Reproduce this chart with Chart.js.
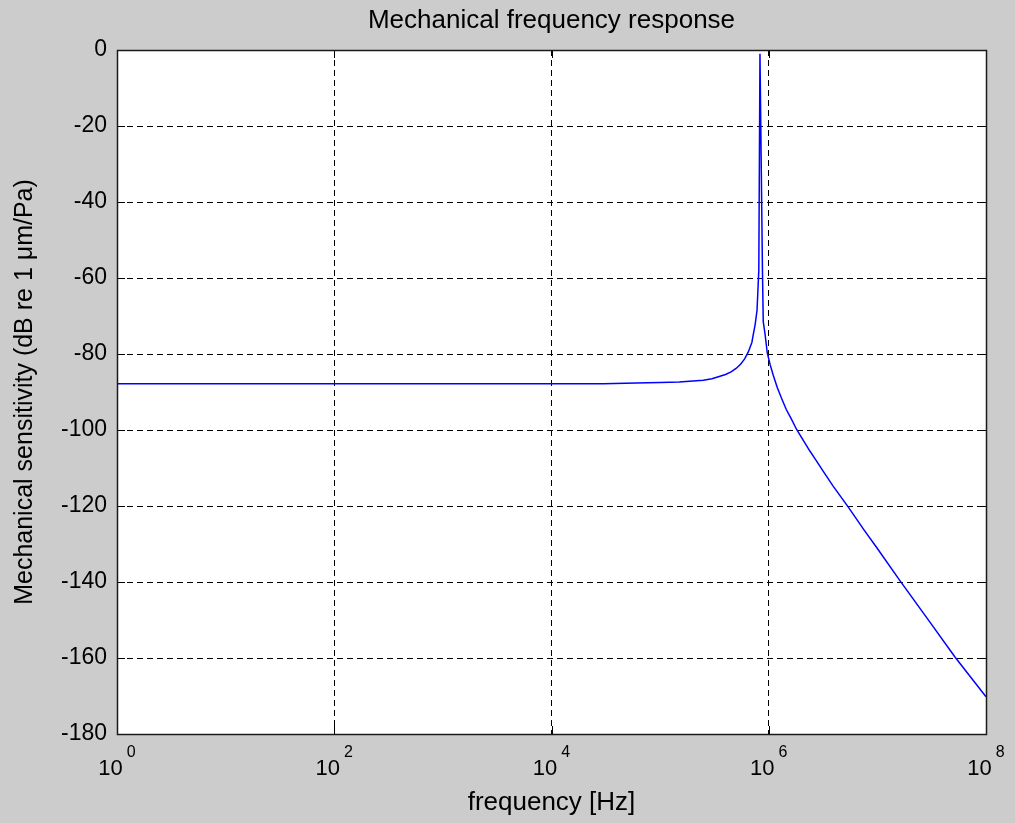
<!DOCTYPE html>
<html>
<head>
<meta charset="utf-8">
<script src="https://cdn.jsdelivr.net/npm/chart.js@4/dist/chart.umd.min.js"></script>
<style>
html, body { margin: 0; padding: 0; background: #cccccc; }
#wrap { width: 1015px; height: 823px; position: relative; }
canvas { display: block; }
</style>
</head>
<body>
<div id="wrap"><canvas id="c" width="1015" height="823"></canvas></div>
<script>
// ---- data ----
const chartTitle = 'Mechanical frequency response';
const xAxisLabel = 'frequency [Hz]';
const yAxisLabel = 'Mechanical sensitivity (dB re 1 \u03BCm/Pa)';

const freqHz = [
  1, 10, 100, 1000, 1e4, 3e4, 6e4, 1e5, 1.5e5, 2e5, 2.5e5, 3e5, 3.5e5, 4e5,
  4.5e5, 5e5, 5.5e5, 6e5, 6.5e5, 7e5, 7.2e5, 7.5e5, 7.8e5, 8.1e5, 8.3e5, 8.75e5,
  8.9e5, 9.25e5, 9.7e5, 1.03e6, 1.1e6, 1.2e6, 1.3e6, 1.45e6, 1.6e6, 1.8e6,
  2.1e6, 2.4e6, 2.7e6, 3.2e6, 3.9e6, 5.4e6, 7.5e6, 1e7, 1.6e7, 3e7, 5.2e7, 1e8
];
const sensitivityDb = [
  -87.8, -87.8, -87.8, -87.8, -87.8, -87.8, -87.6, -87.5, -87.4, -87.1, -86.9, -86.5, -85.9, -85.4,
  -84.7, -83.8, -82.7, -81.3, -79.4, -76.9, -74.9, -72.2, -68.5, -58.0, -1.0, -58.0,
  -71.5, -74.8, -79.8, -82.8, -85.6, -88.9, -91.4, -94.6, -96.9, -99.8,
  -102.9, -105.6, -107.8, -111.0, -114.7, -120.3, -126.2, -131.2, -139.5, -150.3, -159.8, -170.2
];
const xTickExponents = [0, 2, 4, 6, 8];
const xTickValues = xTickExponents.map(e => Math.pow(10, e));
const yMin = -180, yMax = 0, yStep = 20;

// ---- chart ----
const FONT = '"Liberation Sans", Arial, Helvetica, sans-serif';
Chart.defaults.font.family = FONT;
Chart.defaults.color = '#000';

const plotDecor = {
  id: 'plotDecor',
  beforeDraw(chart) {
    const { ctx, chartArea: a } = chart;
    ctx.save();
    ctx.fillStyle = '#ffffff';
    ctx.fillRect(a.left, a.top, a.right - a.left, a.bottom - a.top);
    ctx.restore();
  },
  afterDraw(chart) {
    const { ctx, chartArea: a, scales } = chart;
    const L = Math.round(a.left), R = Math.round(a.right), T = Math.round(a.top), B = Math.round(a.bottom);
    ctx.save();
    ctx.strokeStyle = '#000';
    ctx.lineWidth = 1;
    ctx.setLineDash([]);
    // inner tick marks
    const tl = 8;
    ctx.beginPath();
    scales.y.ticks.forEach(t => {
      const py = Math.round(scales.y.getPixelForValue(t.value)) + 0.5;
      ctx.moveTo(L, py); ctx.lineTo(L + tl, py);
      ctx.moveTo(R, py); ctx.lineTo(R - tl, py);
    });
    scales.x.ticks.forEach(t => {
      const px = Math.round(scales.x.getPixelForValue(t.value)) + 0.5;
      ctx.moveTo(px, B); ctx.lineTo(px, B - tl);
      ctx.moveTo(px, T); ctx.lineTo(px, T + tl);
    });
    ctx.stroke();
    // axes box
    ctx.lineWidth = 1.5;
    ctx.strokeStyle = '#1a1a1a';
    ctx.strokeRect(L + 0.5, T + 0.5, R - L, B - T);
    // x tick labels as 10^n
    const baseFont = '22px ' + FONT, expFont = '16px ' + FONT;
    ctx.fillStyle = '#000';
    ctx.textAlign = 'left';
    ctx.textBaseline = 'alphabetic';
    const xs = scales.x;
    xs.ticks.forEach((t, i) => {
      const px = xs.getPixelForValue(t.value);
      const base = '10', exp = String(xTickExponents[i]);
      ctx.font = baseFont; const wb = ctx.measureText(base).width;
      ctx.font = expFont; const we = ctx.measureText(exp).width;
      const gap = 4;
      const x0 = px - (wb + gap + we) / 2;
      ctx.font = baseFont; ctx.fillText(base, x0, xs.top + 41);
      ctx.font = expFont; ctx.fillText(exp, x0 + wb + gap, xs.top + 23);
    });
    ctx.restore();
  }
};

new Chart(document.getElementById('c'), {
  type: 'scatter',
  data: {
    datasets: [{
      data: freqHz.map((f, i) => ({ x: f, y: sensitivityDb[i] })),
      showLine: true,
      borderColor: '#0000ff',
      backgroundColor: '#0000ff',
      borderWidth: 1.5,
      pointRadius: 0,
      tension: 0,
      fill: false
    }]
  },
  options: {
    responsive: false,
    animation: false,
    devicePixelRatio: 1,
    layout: { padding: { top: 0, right: 29, bottom: 0, left: 0 } },
    plugins: {
      legend: { display: false },
      tooltip: { enabled: false },
      title: {
        display: true,
        fullSize: false,
        text: chartTitle,
        color: '#000',
        font: { size: 26, weight: 'normal', family: FONT },
        padding: { top: 5, bottom: 13.8 }
      }
    },
    scales: {
      x: {
        type: 'logarithmic',
        min: xTickValues[0],
        max: xTickValues[xTickValues.length - 1],
        afterBuildTicks: s => { s.ticks = xTickValues.map(v => ({ value: v })); },
        afterFit: s => { s.height = 89; },
        ticks: { display: false },
        grid: { color: '#000', lineWidth: 1, drawTicks: false },
        border: { display: false, dash: [6, 4] },
        title: {
          display: true,
          text: xAxisLabel,
          color: '#000',
          font: { size: 26, weight: 'normal', family: FONT },
          padding: { top: 0, bottom: 4.4 }
        }
      },
      y: {
        type: 'linear',
        min: yMin,
        max: yMax,
        afterFit: s => { s.width = 117; },
        ticks: { stepSize: yStep, padding: 10, color: '#000', font: { size: 23, family: FONT } },
        grid: { color: '#000', lineWidth: 1, drawTicks: false },
        border: { display: false, dash: [6, 4] },
        title: {
          display: true,
          text: yAxisLabel,
          color: '#000',
          font: { size: 25, weight: 'normal', family: FONT },
          padding: { top: 10, bottom: 0 }
        }
      }
    }
  },
  plugins: [plotDecor]
});
</script>
</body>
</html>
